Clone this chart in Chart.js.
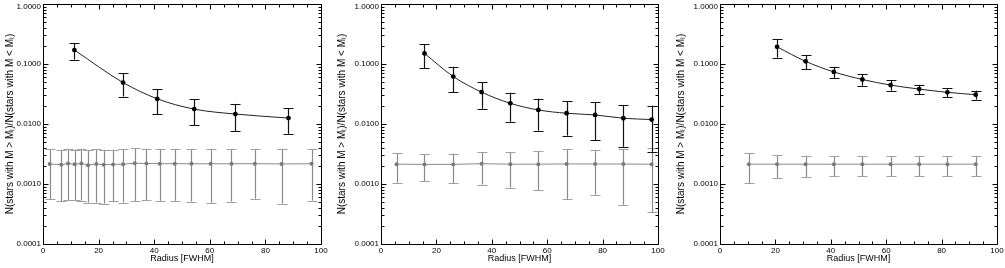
<!DOCTYPE html>
<html><head><meta charset="utf-8">
<script src="https://cdn.jsdelivr.net/npm/chart.js@4.4.1/dist/chart.umd.min.js"></script>
<style>
html,body{margin:0;padding:0;background:#fff;width:1005px;height:268px;overflow:hidden;position:relative}
canvas{position:absolute;top:0}
</style></head><body>
<canvas id="c1" width="331" height="268" style="left:0px"></canvas>
<canvas id="c2" width="336" height="268" style="left:332px"></canvas>
<canvas id="c3" width="336" height="268" style="left:671px"></canvas>
<script>
// ---------- data ----------
const xTickValues = [0, 20, 40, 60, 80, 100];
const yTickValues = [0.0001, 0.001, 0.01, 0.1, 1];
const xTitle = 'Radius [FWHM]';
const yTitle = 'N(stars with M > Mₗ)/N(stars with M < Mₗ)';

// panel 1
const p1BlackX   = [11.3, 28.8, 41.1, 54.4, 69.2, 88.3];
const p1BlackY   = [0.1706, 0.0491, 0.0263, 0.0177, 0.01465, 0.01256];
const p1BlackErr = [0.052, 0.0205, 0.0119, 0.0082, 0.0070, 0.0057];
const p1GrayX    = [2.4, 6.6, 9.0, 11.4, 13.8, 16.2, 19.2, 21.8, 25.2, 28.8, 33.0, 37.2, 42.0, 47.4, 53.4, 60.3, 67.8, 76.2, 85.8, 96.6];
const p1GrayY    = [0.00216, 0.00210, 0.00220, 0.00213, 0.00220, 0.00206, 0.00216, 0.00210, 0.00212, 0.00214, 0.00222, 0.00220, 0.00218, 0.00218, 0.00217, 0.00217, 0.00217, 0.00218, 0.00216, 0.00217];
const p1GrayErr  = [0.00160, 0.00158, 0.00166, 0.00159, 0.00167, 0.00157, 0.00167, 0.00163, 0.00160, 0.00165, 0.00170, 0.00166, 0.00166, 0.00166, 0.00166, 0.00169, 0.00166, 0.00161, 0.00169, 0.00164];

// panel 2
const p2BlackX   = [15.7, 26.1, 36.3, 46.7, 56.8, 67.0, 77.3, 87.5, 97.7];
const p2BlackY   = [0.150, 0.0618, 0.0340, 0.0221, 0.01714, 0.0151, 0.01416, 0.01247, 0.01186];
const p2BlackErr = [0.064, 0.028, 0.016, 0.0112, 0.0094, 0.0087, 0.0088, 0.0083, 0.0084];
const p2GrayX    = [5.6, 15.7, 26.1, 36.3, 46.7, 56.8, 67.0, 77.3, 87.5, 97.7];
const p2GrayY    = [0.00214, 0.00212, 0.00212, 0.00218, 0.00214, 0.00214, 0.00216, 0.00216, 0.00215, 0.00214];
const p2GrayErr  = [0.00109, 0.00100, 0.00110, 0.00120, 0.00127, 0.00136, 0.00160, 0.00150, 0.00170, 0.00180];

// panel 3
const p3BlackX   = [20.6, 30.9, 41.1, 51.4, 61.6, 71.9, 82.1, 92.3];
const p3BlackY   = [0.193, 0.1107, 0.0738, 0.0552, 0.0445, 0.0382, 0.0337, 0.0308];
const p3BlackErr = [0.065, 0.028, 0.016, 0.0117, 0.0086, 0.0068, 0.0059, 0.0052];
const p3GrayX    = [10.4, 20.6, 30.9, 41.1, 51.4, 61.6, 71.9, 82.1, 92.3];
const p3GrayY    = [0.00214, 0.00214, 0.00214, 0.00214, 0.00214, 0.00214, 0.00214, 0.00214, 0.00214];
const p3GrayErr  = [0.00110, 0.00090, 0.00083, 0.00080, 0.00080, 0.00080, 0.00080, 0.00080, 0.00080];

// ---------- rendering ----------
const FONT = "'Liberation Sans', Arial, Helvetica, sans-serif";
Chart.defaults.font.family = FONT;
Chart.defaults.color = '#000';

function pts(xs, ys) { return xs.map((x, i) => ({x: x, y: ys[i]})); }

const errorBarPlugin = {
  id: 'errorBars',
  beforeDatasetsDraw(chart) {
    const {ctx, chartArea, scales: {x, y}} = chart;
    ctx.save();
    ctx.beginPath();
    ctx.rect(chartArea.left, chartArea.top, chartArea.right - chartArea.left, chartArea.bottom - chartArea.top);
    ctx.clip();
    chart.data.datasets.forEach(ds => {
      const errs = ds.errors || [];
      ds.data.forEach((p, i) => {
        const e = errs[i];
        if (e == null) return;
        const px = Math.round(x.getPixelForValue(p.x)) + 0.5;
        const yt = y.getPixelForValue(p.y + e);
        const yb = y.getPixelForValue(Math.max(p.y - e, 1e-6));
        ctx.lineWidth = ds.errorWidth;
        ctx.strokeStyle = ds.errorColor;
        ctx.beginPath();
        ctx.moveTo(px, yt); ctx.lineTo(px, yb);
        ctx.stroke();
        ctx.strokeStyle = ds.capColor;
        ctx.beginPath();
        const c = 5;
        ctx.moveTo(px - c, Math.round(yt) + 0.5); ctx.lineTo(px + c, Math.round(yt) + 0.5);
        ctx.moveTo(px - c, Math.round(yb) + 0.5); ctx.lineTo(px + c, Math.round(yb) + 0.5);
        ctx.stroke();
      });
    });
    ctx.restore();
  }
};

const framePlugin = {
  id: 'frameTicks',
  afterDraw(chart) {
    const {ctx, chartArea: a, scales: {x, y}} = chart;
    ctx.save();
    ctx.strokeStyle = '#000';
    ctx.lineWidth = 1;
    const L = Math.round(a.left) + 0.5, R = Math.round(a.right) + 0.5;
    const T = Math.round(a.top) + 0.5, B = Math.round(a.bottom) + 0.5;
    ctx.beginPath();
    ctx.rect(L, T, R - L, B - T);
    ctx.stroke();
    ctx.beginPath();
    // x ticks (major every 20, minor every 5), bottom and top, inward
    for (let v = 0; v <= 100; v += 5) {
      const len = (v % 20 === 0) ? 5 : 3;
      const px = Math.round(x.getPixelForValue(v)) + 0.5;
      ctx.moveTo(px, B); ctx.lineTo(px, B - len);
      ctx.moveTo(px, T); ctx.lineTo(px, T + len);
    }
    // y ticks (log), left and right, inward
    for (let d = -4; d <= 0; d++) {
      for (let k = 1; k <= 9; k++) {
        if (d === 0 && k > 1) break;
        const v = k * Math.pow(10, d);
        const len = (k === 1) ? 5 : 3;
        const py = Math.round(y.getPixelForValue(v)) + 0.5;
        ctx.moveTo(L, py); ctx.lineTo(L + len, py);
        ctx.moveTo(R, py); ctx.lineTo(R - len, py);
      }
    }
    ctx.stroke();
    ctx.restore();
  }
};

function makePanel(id, axisW, bx, by, be, gx, gy, ge) {
  return new Chart(document.getElementById(id), {
    type: 'line',
    data: {
      datasets: [
        {
          data: pts(gx, gy), errors: ge,
          borderColor: '#8a8a8a', borderWidth: 1,
          pointRadius: 2, pointBackgroundColor: '#7a7a7a', pointBorderWidth: 0,
          errorColor: '#8a8a8a', capColor: '#a0a0a0', errorWidth: 1.2,
          tension: 0
        },
        {
          data: pts(bx, by), errors: be,
          borderColor: '#222', borderWidth: 1,
          pointRadius: 2.4, pointBackgroundColor: '#000', pointBorderWidth: 0,
          errorColor: '#111', capColor: '#111', errorWidth: 1.2,
          cubicInterpolationMode: 'monotone'
        }
      ]
    },
    options: {
      responsive: false,
      animation: false,
      devicePixelRatio: 1,
      layout: {padding: {top: 2, right: 10, bottom: 0, left: 0}},
      plugins: {legend: {display: false}, tooltip: {enabled: false}},
      scales: {
        x: {
          type: 'linear', min: 0, max: 100,
          grid: {display: false, drawTicks: false},
          border: {display: false},
          afterBuildTicks(s) { s.ticks = xTickValues.map(v => ({value: v})); },
          afterFit(s) { s.height = 24; s.paddingLeft = 0; s.paddingRight = 0; },
          ticks: {autoSkip: false, maxRotation: 0, padding: 2, color: '#000',
                  font: {size: 8, family: FONT}},
          title: {display: true, text: xTitle, color: '#000',
                  font: {size: 9, family: FONT}, padding: {top: 0, bottom: 4}}
        },
        y: {
          type: 'logarithmic', min: 0.0001, max: 1,
          grid: {display: false, drawTicks: false},
          border: {display: false},
          afterBuildTicks(s) { s.ticks = yTickValues.map(v => ({value: v})); },
          afterFit(s) { s.width = axisW; s.paddingTop = 0; s.paddingBottom = 0; },
          ticks: {
            autoSkip: false, padding: 2, color: '#000',
            font: {size: 8, family: FONT, lineHeight: 0.8},
            callback(v) { const t = Number(v).toFixed(4); return v >= 1 ? ['', t] : t; }
          },
          title: {display: true, text: yTitle, color: '#000',
                  font: {size: 10, family: FONT}, padding: {top: 4, bottom: 0}}
        }
      }
    },
    plugins: [errorBarPlugin, framePlugin]
  });
}

makePanel('c1', 43, p1BlackX, p1BlackY, p1BlackErr, p1GrayX, p1GrayY, p1GrayErr);
makePanel('c2', 49, p2BlackX, p2BlackY, p2BlackErr, p2GrayX, p2GrayY, p2GrayErr);
makePanel('c3', 49, p3BlackX, p3BlackY, p3BlackErr, p3GrayX, p3GrayY, p3GrayErr);
</script>
</body></html>
